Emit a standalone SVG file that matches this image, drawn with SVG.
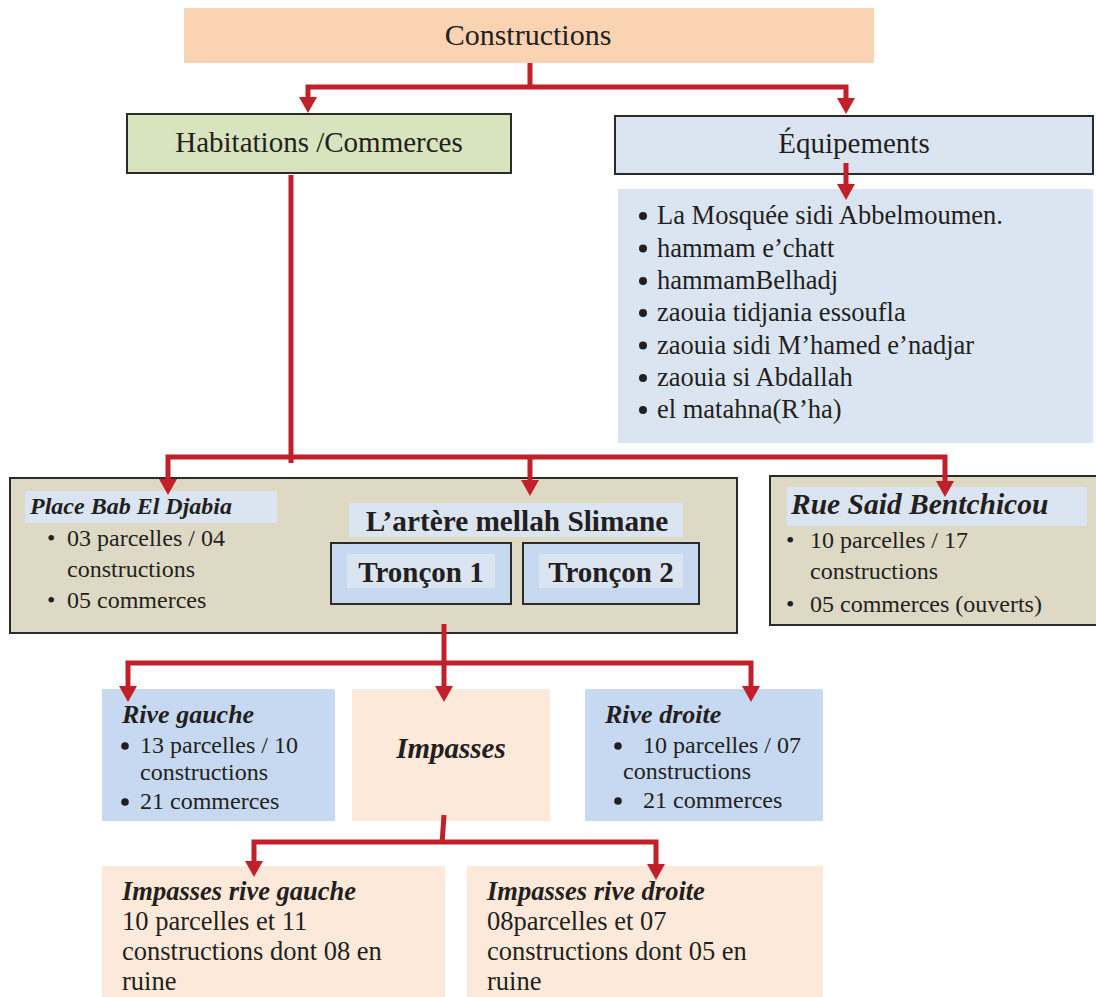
<svg xmlns="http://www.w3.org/2000/svg" width="1096" height="997" viewBox="0 0 1096 997">
  <defs>
    <marker id="arrow" viewBox="0 0 16 18" markerWidth="16" markerHeight="18" markerUnits="userSpaceOnUse" refX="1" refY="9" orient="auto">
      <path d="M0,0 L16,9 L0,18 Z" fill="#C1202B"/>
    </marker>
    <style>
      text { font-family: "Liberation Serif", "Times New Roman", serif; fill: #231F20; }
      .boxed { stroke: #2B2B2B; stroke-width: 2; }
      .head { font-size: 29px; text-anchor: middle; }
      .item { font-size: 24px; }
      .eq { font-size: 26.5px; }
      .bi { font-weight: bold; font-style: italic; }
      .b { font-weight: bold; }
      .dot { fill: #231F20; }
      .link { fill: none; stroke: #C1202B; stroke-width: 5; stroke-linejoin: miter; }
      .link-a { fill: none; stroke: #C1202B; stroke-width: 5; stroke-linejoin: miter; marker-end: url(#arrow); }
    </style>
  </defs>

  <rect width="1096" height="997" fill="#FFFFFF"/>

  <!-- root -->
  <g id="constructions">
    <rect x="184" y="8" width="690" height="55" fill="#FAD3B3"/>
    <text class="head" x="528" y="45" style="font-size:30px">Constructions</text>
  </g>

  <g id="habitations">
    <rect class="boxed" x="127" y="114" width="384" height="59" fill="#D7E4BD"/>
    <text class="head" x="319" y="152">Habitations /Commerces</text>
  </g>

  <g id="equipements">
    <rect class="boxed" x="615" y="116" width="478" height="58" fill="#DBE5F1"/>
    <text class="head" x="854" y="153">Équipements</text>
  </g>

  <g id="equipements-list">
    <rect x="618" y="189" width="475" height="254" fill="#DBE5F1"/>
    <g class="dot">
      <circle cx="643" cy="216" r="4"/>
      <circle cx="643" cy="248.5" r="4"/>
      <circle cx="643" cy="281" r="4"/>
      <circle cx="643" cy="313" r="4"/>
      <circle cx="643" cy="345.5" r="4"/>
      <circle cx="643" cy="378" r="4"/>
      <circle cx="643" cy="410" r="4"/>
    </g>
    <g class="eq">
      <text x="657" y="224">La Mosquée sidi Abbelmoumen.</text>
      <text x="657" y="256.5">hammam e’chatt</text>
      <text x="657" y="289">hammamBelhadj</text>
      <text x="657" y="321">zaouia tidjania essoufla</text>
      <text x="657" y="353.5">zaouia sidi M’hamed e’nadjar</text>
      <text x="657" y="386">zaouia si Abdallah</text>
      <text x="657" y="418">el matahna(R’ha)</text>
    </g>
  </g>

  <!-- street group: place + artère -->
  <g id="place-artere">
    <rect class="boxed" x="10" y="478" width="727" height="155" fill="#DDD9C4"/>
  </g>

  <g id="place-bab-el-djabia">
    <rect x="25" y="491" width="252" height="32" fill="#DBE5F1"/>
    <text class="bi" x="30" y="514" style="font-size:24px">Place Bab El Djabia</text>
    <g class="item">
      <text x="47" y="546">•</text><text x="67" y="546">03 parcelles / 04</text>
      <text x="67" y="577">constructions</text>
      <text x="47" y="608">•</text><text x="67" y="608">05 commerces</text>
    </g>
  </g>

  <g id="artere-mellah-slimane">
    <rect x="349" y="503" width="334" height="34" fill="#DBE5F1"/>
    <text class="b" x="517" y="531" style="font-size:29.3px" text-anchor="middle">L’artère mellah Slimane</text>
  </g>

  <g id="troncon-1">
    <rect class="boxed" x="331" y="543" width="180" height="61" fill="#C6D9F1"/>
    <rect x="347" y="554" width="148" height="34" fill="#DBE5F1"/>
    <text class="b" x="421" y="582" style="font-size:29px" text-anchor="middle">Tronçon 1</text>
  </g>

  <g id="troncon-2">
    <rect class="boxed" x="523" y="543" width="176" height="61" fill="#C6D9F1"/>
    <rect x="539" y="554" width="144" height="34" fill="#DBE5F1"/>
    <text class="b" x="611" y="582" style="font-size:29px" text-anchor="middle">Tronçon 2</text>
  </g>

  <g id="rue-said-bentchicou">
    <rect class="boxed" x="770" y="476" width="333" height="149" fill="#DDD9C4"/>
    <rect x="787" y="487" width="300" height="39" fill="#DBE5F1"/>
    <text class="bi" x="791" y="514" style="font-size:29.5px">Rue Said Bentchicou</text>
    <g class="item">
      <text x="786" y="548">•</text><text x="810" y="548">10 parcelles / 17</text>
      <text x="810" y="579">constructions</text>
      <text x="786" y="612">•</text><text x="810" y="612">05 commerces (ouverts)</text>
    </g>
  </g>

  <!-- banks of the artère -->
  <g id="rive-gauche">
    <rect x="102" y="689" width="233" height="132" fill="#C6D9F1"/>
    <text class="bi" x="122" y="723" style="font-size:26px">Rive gauche</text>
    <circle class="dot" cx="125" cy="746" r="3.8"/>
    <circle class="dot" cx="125" cy="802" r="3.8"/>
    <g class="item">
      <text x="140" y="753">13 parcelles / 10</text>
      <text x="140" y="780">constructions</text>
      <text x="140" y="809">21 commerces</text>
    </g>
  </g>

  <g id="impasses">
    <rect x="352" y="689" width="198" height="132" fill="#FDE9D9"/>
    <text class="bi" x="451" y="758" style="font-size:29px" text-anchor="middle">Impasses</text>
  </g>

  <g id="rive-droite">
    <rect x="585" y="689" width="238" height="132" fill="#C6D9F1"/>
    <text class="bi" x="605" y="723" style="font-size:26px">Rive droite</text>
    <circle class="dot" cx="618" cy="746" r="3.8"/>
    <circle class="dot" cx="618" cy="801" r="3.8"/>
    <g class="item">
      <text x="643" y="753">10 parcelles / 07</text>
      <text x="623" y="779">constructions</text>
      <text x="643" y="808">21 commerces</text>
    </g>
  </g>

  <g id="impasses-rive-gauche">
    <rect x="102" y="866" width="343" height="131" fill="#FDE9D9"/>
    <text class="bi" x="122" y="900" style="font-size:26.5px">Impasses rive gauche</text>
    <g style="font-size:26.5px">
      <text x="122" y="930">10 parcelles et 11</text>
      <text x="122" y="960">constructions dont 08 en</text>
      <text x="122" y="990">ruine</text>
    </g>
  </g>

  <g id="impasses-rive-droite">
    <rect x="467" y="866" width="356" height="131" fill="#FDE9D9"/>
    <text class="bi" x="487" y="900" style="font-size:26.5px">Impasses rive droite</text>
    <g style="font-size:26.5px">
      <text x="487" y="930">08parcelles et 07</text>
      <text x="487" y="960">constructions dont 05 en</text>
      <text x="487" y="990">ruine</text>
    </g>
  </g>

  <!-- connectors -->
  <g id="connectors">
    <path class="link" d="M530,63 V87"/>
    <path class="link-a" d="M530,87 H308 V98"/>
    <path class="link-a" d="M530,87 H846 V99"/>

    <path class="link-a" d="M846,163 V185"/>

    <path class="link" d="M291,175 V463"/>
    <path class="link-a" d="M291,457 H168 V480"/>
    <path class="link-a" d="M530,457 V481"/>
    <path class="link-a" d="M291,457 H945 V482"/>

    <path class="link-a" d="M444,624 V687"/>
    <path class="link-a" d="M444,663 H128 V687"/>
    <path class="link-a" d="M444,663 H751 V687"/>

    <path class="link" d="M444,815 L442,844"/>
    <path class="link-a" d="M442,842 H254 V862"/>
    <path class="link-a" d="M442,842 H656 V865"/>
  </g>
</svg>
